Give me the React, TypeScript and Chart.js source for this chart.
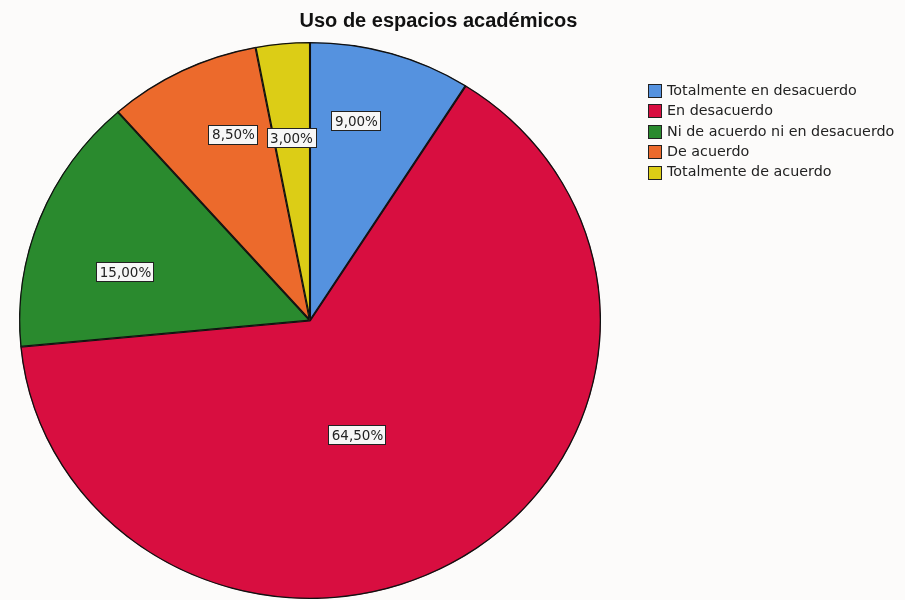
import React, { useEffect, useRef } from "react";
import { Chart, registerables } from "chart.js";

Chart.register(...registerables);

const TITLE = "Uso de espacios académicos";
const categories = [
  "Totalmente en desacuerdo",
  "En desacuerdo",
  "Ni de acuerdo ni en desacuerdo",
  "De acuerdo",
  "Totalmente de acuerdo",
];
const percents = [9.0, 64.5, 15.0, 8.5, 3.0];
const pctLabels = ["9,00%", "64,50%", "15,00%", "8,50%", "3,00%"];
const colors = ["#5592DF", "#D80E40", "#2A8A2E", "#EC6A2C", "#DCCD16"];
// label placement (fraction of radius, angular shift in degrees)
const labelRadius = [0.735, 0.44, 0.66, 0.72, 0.66];
const labelShift = [-3.8, 10, -6.2, 4.4, -0.2];

const SX = 1.045; // horizontal stretch of the pie

export default function App() {
  const ref = useRef<HTMLCanvasElement | null>(null);
  useEffect(() => {
    const canvas = ref.current!;
    const stretch = {
      id: "stretch",
      beforeDatasetsDraw(chart: any) {
        const meta = chart.getDatasetMeta(0);
        const a = meta.data[0];
        const ctx = chart.ctx;
        ctx.save();
        ctx.translate(a.x, a.y);
        ctx.scale(SX, 1);
        ctx.translate(-a.x, -a.y);
      },
      afterDatasetsDraw(chart: any) {
        chart.ctx.restore();
      },
    };
    const deco = {
      id: "deco",
      beforeDraw(chart: any) {
        const ctx = chart.ctx;
        ctx.save();
        ctx.fillStyle = "#fcfbfa";
        ctx.fillRect(0, 0, chart.width, chart.height);
        ctx.restore();
      },
      afterDraw(chart: any) {
        const ctx = chart.ctx;
        const meta = chart.getDatasetMeta(0);
        ctx.save();
        // title
        ctx.font = "bold 20px 'Liberation Sans', Arial, sans-serif";
        ctx.fillStyle = "#111";
        ctx.textAlign = "center";
        ctx.textBaseline = "middle";
        ctx.fillText(TITLE, 438.5, 21);
        // slice labels
        ctx.font = "13.5px 'DejaVu Sans', sans-serif";
        meta.data.forEach((arc: any, i: number) => {
          const mid = (arc.startAngle + arc.endAngle) / 2 + (labelShift[i] * Math.PI) / 180;
          const r = arc.outerRadius * labelRadius[i];
          const x = arc.x + Math.cos(mid) * r * SX;
          const y = arc.y + Math.sin(mid) * r;
          const t = pctLabels[i];
          const w = ctx.measureText(t).width + 6;
          const h = 19;
          ctx.fillStyle = "#f7f7f7";
          ctx.fillRect(Math.round(x - w / 2) + 0.5, Math.round(y - h / 2) + 0.5, Math.round(w), h);
          ctx.strokeStyle = "#222";
          ctx.lineWidth = 1;
          ctx.strokeRect(Math.round(x - w / 2) + 0.5, Math.round(y - h / 2) + 0.5, Math.round(w), h);
          ctx.fillStyle = "#222";
          ctx.textAlign = "center";
          ctx.textBaseline = "middle";
          ctx.fillText(t, Math.round(x) + 0.5, Math.round(y) + 1);
        });
        // legend
        ctx.font = "14.3px 'DejaVu Sans', sans-serif";
        ctx.textAlign = "left";
        ctx.textBaseline = "middle";
        categories.forEach((c, i) => {
          const y = 91 + i * 20.4;
          ctx.fillStyle = colors[i];
          ctx.fillRect(648.5, Math.round(y - 7) + 0.5, 13, 13);
          ctx.strokeStyle = "#222";
          ctx.strokeRect(648.5, Math.round(y - 7) + 0.5, 13, 13);
          ctx.fillStyle = "#222";
          ctx.fillText(c, 667, y);
        });
        ctx.restore();
      },
    };
    const chart = new Chart(canvas, {
      type: "pie",
      data: {
        labels: categories,
        datasets: [
          {
            data: percents,
            backgroundColor: colors,
            borderColor: "#111",
            borderWidth: 1,
            borderAlign: "inner",
          } as any,
        ],
      },
      options: {
        animation: false,
        responsive: false,
        maintainAspectRatio: false,
        devicePixelRatio: 1,
        layout: { padding: { top: 42, bottom: 1, left: 31.5, right: 316.5 } },
        plugins: {
          legend: { display: false },
          tooltip: { enabled: false },
          title: { display: false },
        },
      } as any,
      plugins: [stretch, deco],
    });
    return () => chart.destroy();
  }, []);
  return (
    <div style={{ position: "fixed", left: 0, top: 0, width: 905, height: 600 }}>
      <canvas ref={ref} width={905} height={600} style={{ width: 905, height: 600, display: "block" }} />
    </div>
  );
}
